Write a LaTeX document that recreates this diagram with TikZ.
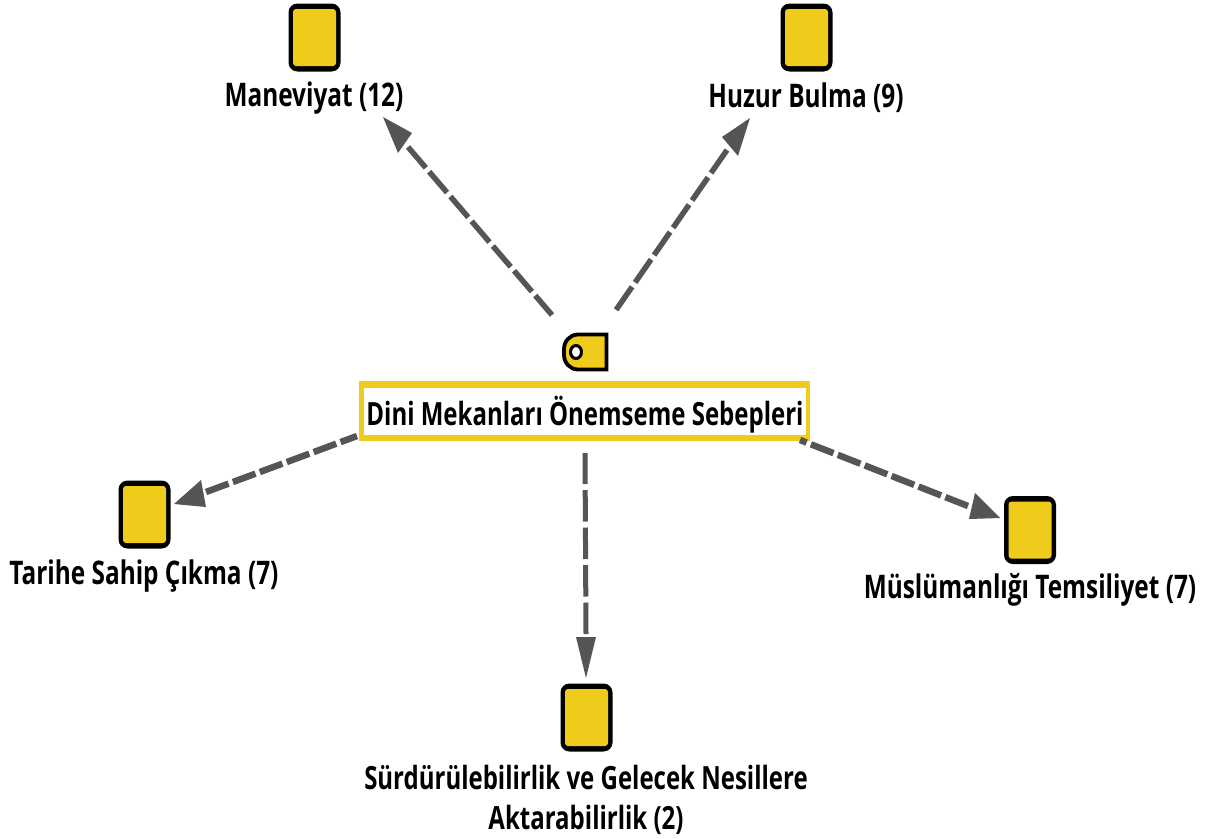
\documentclass[tikz,border=0pt]{standalone}
\usepackage{fontspec}
\setmainfont[FakeStretch=0.75]{Open Sans}
\usetikzlibrary{shapes.geometric}
\definecolor{ybox}{HTML}{EFCB1B}
\definecolor{arrowgray}{HTML}{555555}
\tikzset{
  x=1pt,y=-1pt,
  cardout/.style={fill=black,rounded corners=9pt,minimum width=52pt,minimum height=68pt,inner sep=0pt,anchor=center},
  cardin/.style={fill=ybox,rounded corners=3pt,minimum width=43pt,minimum height=57pt,inner sep=0pt,anchor=center},
  lbl/.style={font=\fontsize{32}{32}\selectfont\bfseries,inner sep=0pt,anchor=center,text=black},
  lblw/.style={font=\fontsize{32.5}{32.5}\selectfont\bfseries,inner sep=0pt,anchor=center,text=black},
  mainout/.style={fill=ybox,minimum width=451pt,minimum height=60pt,inner sep=0pt,anchor=center},
  mainin/.style={fill=white,minimum width=442pt,minimum height=47pt,inner sep=0pt,anchor=center},
  link/.style={draw=arrowgray},
  headtip/.style={fill=arrowgray,draw=none},
}
\begin{document}
\begin{tikzpicture}
\useasboundingbox (0,0) rectangle (1215,838);
\node[cardout] (c1) at (314.5,37.5) {};
\node[cardin] (d1) at (c1) {};
\node[cardout] (c2) at (806.5,37.5) {};
\node[cardin] (d2) at (c2) {};
\node[cardout] (c3) at (144.5,514.5) {};
\node[cardin] (d3) at (c3) {};
\node[cardout] (c4) at (1030,530) {};
\node[cardin] (d4) at (c4) {};
\node[cardout] (c5) at (586.5,717.5) {};
\node[cardin] (d5) at (c5) {};
\node[lblw] (l1) at (314,98) {Maneviyat (12)};
\node[lblw] (l2) at (806,98) {Huzur Bulma (9)};
\node[lblw] (l3) at (144,576) {Tarihe Sahip Çıkma (7)};
\node[lblw] (l4) at (1030,590) {Müslümanlığı Temsiliyet (7)};
\node[lbl] (l5) at (586,777) {Sürdürülebilirlik ve Gelecek Nesillere};
\node[lbl] (l6) at (586,820) {Aktarabilirlik (2)};
\node[mainout] (m) at (584.5,411) {};
\node[mainin] (mi) at (m) {};
\node[lbl] (mt) at (585,415) {Dini Mekanları Önemseme Sebepleri};
\draw[black,fill=ybox,line width=3.8pt,line join=miter] (606.5,334.5) -- (578,334.5) to[out=180,in=90] (564,349) -- (564,355) to[out=-90,in=180] (578,369.5) -- (606.5,369.5) -- cycle;
\node[draw=black,fill=white,line width=3pt,ellipse,minimum width=11pt,minimum height=13pt,inner sep=0pt] (h) at (576,352) {};
% sources
\coordinate (s1) at (552,315);
\coordinate (s2) at (616,310);
\coordinate (s3) at (357,436);
\coordinate (s4) at (585,453);
\coordinate (s5) at (800,440);
% shaft ends
\coordinate (e1) at (408,147);
\coordinate (e2) at (727,150);
\coordinate (e3) at (206,492);
\coordinate (e4) at (586,634);
\coordinate (e5) at (968,506);
% arrowheads
\coordinate (t1) at (383,117); \coordinate (a1) at (412,133); \coordinate (b1) at (398,153);
\coordinate (t2) at (750,118); \coordinate (a2) at (722,137); \coordinate (b2) at (738,156);
\coordinate (t3) at (174,504); \coordinate (a3) at (201,480); \coordinate (b3) at (206,507);
\coordinate (t4) at (586,678); \coordinate (a4) at (576,637); \coordinate (b4) at (596,637);
\coordinate (t5) at (1000,518); \coordinate (a5) at (975,493); \coordinate (b5) at (969,519);
\draw[link,line width=5.5pt,dash pattern=on 27.4pt off 5.2pt] (e1) -- (s1);
\draw[link,line width=5.5pt,dash pattern=on 28pt off 5.3pt] (e2) -- (s2);
\draw[link,line width=6.5pt,dash pattern=on 24.1pt off 4.6pt] (e3) -- (s3);
\draw[link,line width=5pt,dash pattern=on 31.5pt off 6pt] (e4) -- (s4);
\draw[link,line width=6.5pt,dash pattern=on 24.3pt off 4.6pt] (e5) -- (s5);
\fill[headtip] (t1) -- (a1) -- (b1) -- cycle;
\fill[headtip] (t2) -- (a2) -- (b2) -- cycle;
\fill[headtip] (t3) -- (a3) -- (b3) -- cycle;
\fill[headtip] (t4) -- (a4) -- (b4) -- cycle;
\fill[headtip] (t5) -- (a5) -- (b5) -- cycle;
\end{tikzpicture}
\end{document}
